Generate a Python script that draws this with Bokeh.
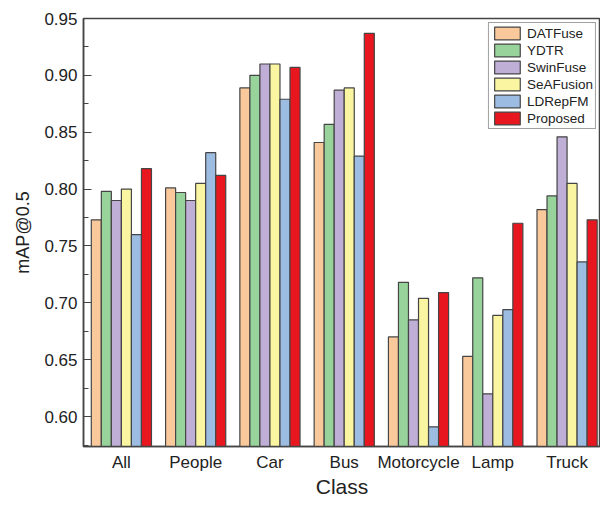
from bokeh.plotting import figure
from bokeh.models import ColumnDataSource, Range1d, FixedTicker, Legend, LegendItem, CustomJSTickFormatter
from bokeh.transform import dodge
from bokeh.embed import file_html
from bokeh.resources import INLINE

classes = ["All", "People", "Car", "Bus", "Motorcycle", "Lamp", "Truck"]
series = ["DATFuse", "YDTR", "SwinFuse", "SeAFusion", "LDRepFM", "Proposed"]
DATFuse   = [0.773, 0.801, 0.889, 0.841, 0.670, 0.653, 0.782]
YDTR      = [0.798, 0.797, 0.900, 0.857, 0.718, 0.722, 0.794]
SwinFuse  = [0.790, 0.790, 0.910, 0.887, 0.685, 0.620, 0.846]
SeAFusion = [0.800, 0.805, 0.910, 0.889, 0.704, 0.689, 0.805]
LDRepFM   = [0.760, 0.832, 0.879, 0.829, 0.591, 0.694, 0.736]
Proposed  = [0.818, 0.812, 0.907, 0.937, 0.709, 0.770, 0.773]
colors = ["#F9C89B", "#97D39B", "#BFAED5", "#FAF5A0", "#9DBCE2", "#E8171F"]
yticks = [0.60, 0.65, 0.70, 0.75, 0.80, 0.85, 0.90, 0.95]

xpos = list(range(len(classes)))
data = {"x": xpos, "DATFuse": DATFuse, "YDTR": YDTR, "SwinFuse": SwinFuse,
        "SeAFusion": SeAFusion, "LDRepFM": LDRepFM, "Proposed": Proposed}
src = ColumnDataSource(data)

FONT = "Liberation Sans"
p = figure(x_range=Range1d(-0.51, 6.45), y_range=Range1d(0.5737, 0.95),
           width=600, height=500, output_backend="svg", toolbar_location=None,
           min_border_left=83, min_border_right=0, min_border_top=18, min_border_bottom=53)

bw = 0.135
n = len(series)
items = []
for i, (s, c) in enumerate(zip(series, colors)):
    off = (i - (n - 1) / 2) * bw
    r = p.vbar(x=dodge("x", off), top=s, bottom=0.5, width=bw, source=src,
               fill_color=c, line_color="#454545", line_width=1.2)
    items.append(LegendItem(label=s, renderers=[r]))

legend = Legend(items=items, location="top_right", label_text_font=FONT, label_text_font_size="13.5px",
                glyph_width=32, glyph_height=16, label_height=16, spacing=1, padding=2, margin=4,
                border_line_color="#444444", border_line_width=1, label_standoff=4,
                label_text_color="#222222")
p.add_layout(legend)

p.grid.visible = False
p.outline_line_color = "#444444"
p.outline_line_width = 1.5

p.xaxis.ticker = FixedTicker(ticks=xpos)
p.xaxis.major_label_overrides = {i: c for i, c in zip(xpos, classes)}
p.yaxis.ticker = FixedTicker(ticks=yticks, minor_ticks=[0.575 + 0.05 * k for k in range(8)])
p.yaxis.formatter = CustomJSTickFormatter(code="return tick.toFixed(2);")
for ax in [p.xaxis[0], p.yaxis[0]]:
    ax.axis_line_color = "#444444"
    ax.axis_line_width = 1.5
    ax.major_tick_in = 8
    ax.major_tick_out = 0
    ax.minor_tick_in = 5
    ax.minor_tick_out = 0
    ax.major_tick_line_color = "#444444"
    ax.minor_tick_line_color = "#444444"
    ax.major_label_text_font = FONT
    ax.major_label_text_font_size = "17px"
    ax.major_label_text_color = "#222222"
    ax.axis_label_text_font = FONT
    ax.axis_label_text_font_style = "normal"
    ax.axis_label_text_color = "#222222"
p.xaxis.major_tick_line_color = None
p.xaxis.minor_tick_line_color = None
p.xaxis.major_label_standoff = 6
p.yaxis.major_label_standoff = 6
p.xaxis.axis_label = "Class"
p.xaxis.axis_label_text_font_size = "21px"
p.xaxis.axis_label_standoff = 0
p.yaxis.axis_label = "mAP@0.5"
p.yaxis.axis_label_text_font_size = "18px"
p.yaxis.axis_label_standoff = 8

open("out.html", "w").write(file_html(p, INLINE))
